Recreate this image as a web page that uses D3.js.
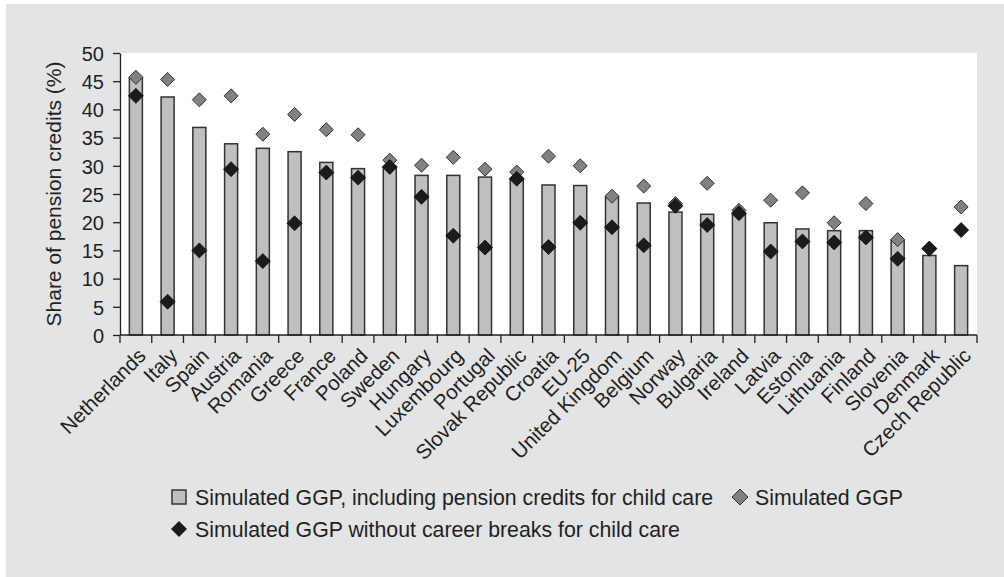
<!DOCTYPE html>
<html>
<head>
<meta charset="utf-8">
<script src="https://cdn.jsdelivr.net/npm/d3@7"></script>
<style>
  body { margin: 0; background: #fff; }
  svg text { font-family: "Liberation Sans", Arial, sans-serif; fill: #231f20; }
</style>
</head>
<body>
<div id="chart"></div>
<script>
// data
const countries = ['Netherlands', 'Italy', 'Spain', 'Austria', 'Romania', 'Greece', 'France', 'Poland',
    'Sweden', 'Hungary', 'Luxembourg', 'Portugal', 'Slovak Republic', 'Croatia', 'EU-25', 'United Kingdom',
    'Belgium', 'Norway', 'Bulgaria', 'Ireland', 'Latvia', 'Estonia', 'Lithuania', 'Finland', 'Slovenia',
    'Denmark', 'Czech Republic'];
// bars: simulated GGP, including pension credits for child care
const withCredits = [45.6, 42.2, 36.8, 33.9, 33.1, 32.5, 30.6, 29.5, 29.8, 28.3, 28.3, 28.0, 27.7, 26.6,
    26.5, 24.4, 23.4, 21.8, 21.4, 21.5, 19.9, 18.8, 18.5, 18.5, 16.8, 14.1, 12.3];
// grey diamonds: simulated GGP
const simulated = [45.7, 45.3, 41.7, 42.4, 35.6, 39.1, 36.4, 35.5, 31.0, 30.1, 31.5, 29.4, 28.9, 31.7,
    30.0, 24.6, 26.4, 23.3, 26.9, 22.1, 23.9, 25.2, 19.9, 23.3, 16.9, 15.4, 22.7];
// black diamonds: simulated GGP without career breaks for child care
const noBreaks = [42.4, 5.9, 15.0, 29.4, 13.1, 19.8, 28.8, 27.9, 29.8, 24.5, 17.6, 15.5, 27.7, 15.6,
    19.9, 19.1, 15.9, 22.9, 19.5, 21.6, 14.8, 16.6, 16.4, 17.3, 13.5, 15.3, 18.6];
const yTicks = [0, 5, 10, 15, 20, 25, 30, 35, 40, 45, 50];
const legendLabels = ['Simulated GGP, including pension credits for child care', 'Simulated GGP',
    'Simulated GGP without career breaks for child care'];

const width = 1004, height = 577;
const pad = {left: 120, right: 977, top: 53, bottom: 335};

const svg = d3.select('#chart').append('svg')
    .attr('width', width)
    .attr('height', height);

svg.append('rect')
    .attr('x', 6).attr('y', 4)
    .attr('width', width - 6).attr('height', height - 4)
    .attr('fill', '#e3e4e6');

svg.append('rect')
    .attr('x', pad.left).attr('y', pad.top)
    .attr('width', pad.right - pad.left).attr('height', pad.bottom - pad.top)
    .attr('fill', '#fff');

const x = d3.scaleBand()
    .domain(countries)
    .range([pad.left, pad.right])
    .padding(0);
const y = d3.scaleLinear()
    .domain([0, 50])
    .range([pad.bottom, pad.top]);

const barW = x.step() * 0.41;
const cx = d => x(d) + x.bandwidth() / 2;

// bars
svg.append('g').selectAll('rect')
    .data(countries)
    .join('rect')
    .attr('x', d => cx(d) - barW / 2)
    .attr('y', (d, i) => y(withCredits[i]))
    .attr('width', barW)
    .attr('height', (d, i) => y(0) - y(withCredits[i]))
    .attr('fill', '#bebfc1')
    .attr('stroke', '#333')
    .attr('stroke-width', 1.5);

const diamond = r => `M0,${-r}L${r},0L0,${r}L${-r},0Z`;

// grey diamonds
svg.append('g').selectAll('path')
    .data(countries)
    .join('path')
    .attr('d', diamond(7))
    .attr('transform', (d, i) => `translate(${cx(d)},${y(simulated[i])})`)
    .attr('fill', '#808184')
    .attr('stroke', '#333')
    .attr('stroke-width', 1);

// black diamonds
svg.append('g').selectAll('path')
    .data(countries)
    .join('path')
    .attr('d', diamond(7.5))
    .attr('transform', (d, i) => `translate(${cx(d)},${y(noBreaks[i])})`)
    .attr('fill', '#1c1a1b')
    .attr('stroke', '#111')
    .attr('stroke-width', 0.8);

// y axis
const yAxis = svg.append('g')
    .attr('transform', `translate(${pad.left},0)`)
    .call(d3.axisLeft(y).tickValues(yTicks).tickSizeInner(7).tickSizeOuter(0).tickPadding(9));
yAxis.select('.domain').attr('stroke', '#231f20').attr('stroke-width', 1.3);
yAxis.selectAll('.tick line').attr('stroke', '#231f20').attr('stroke-width', 1.3);
yAxis.selectAll('.tick text')
    .style('font-size', '20px')
    .attr('dy', '0.36em');

// x axis
const xAxis = svg.append('g');
xAxis.append('line')
    .attr('x1', pad.left).attr('x2', pad.right)
    .attr('y1', pad.bottom).attr('y2', pad.bottom)
    .attr('stroke', '#231f20').attr('stroke-width', 1.3);
xAxis.selectAll('line.tick')
    .data(d3.range(countries.length + 1))
    .join('line')
    .attr('class', 'tick')
    .attr('x1', i => pad.left + i * x.step()).attr('x2', i => pad.left + i * x.step())
    .attr('y1', pad.bottom).attr('y2', pad.bottom + 8)
    .attr('stroke', '#231f20').attr('stroke-width', 1.3);
xAxis.selectAll('text')
    .data(countries)
    .join('text')
    .attr('transform', d => `translate(${cx(d) + 6},${pad.bottom + 17}) rotate(-45)`)
    .attr('text-anchor', 'end')
    .attr('dy', '0.35em')
    .style('font-size', '20.5px')
    .text(d => d);

// y axis title
svg.append('text')
    .attr('transform', `translate(61,${(pad.top + pad.bottom) / 2}) rotate(-90)`)
    .attr('text-anchor', 'middle')
    .style('font-size', '21px')
    .text('Share of pension credits (%)');

// legend
const legend = svg.append('g').style('font-size', '21.3px');
legend.append('rect')
    .attr('x', 172).attr('y', 490)
    .attr('width', 14).attr('height', 14)
    .attr('fill', '#bebfc1').attr('stroke', '#333').attr('stroke-width', 1.5);
legend.append('text').attr('x', 195).attr('y', 497).attr('dy', '0.36em').text(legendLabels[0]);
legend.append('path')
    .attr('d', diamond(8))
    .attr('transform', 'translate(740,497)')
    .attr('fill', '#808184').attr('stroke', '#333');
legend.append('text').attr('x', 755).attr('y', 497).attr('dy', '0.36em').text(legendLabels[1]);
legend.append('path')
    .attr('d', diamond(8))
    .attr('transform', 'translate(179,529)')
    .attr('fill', '#1c1a1b');
legend.append('text').attr('x', 195).attr('y', 529).attr('dy', '0.36em').text(legendLabels[2]);
</script>
</body>
</html>
